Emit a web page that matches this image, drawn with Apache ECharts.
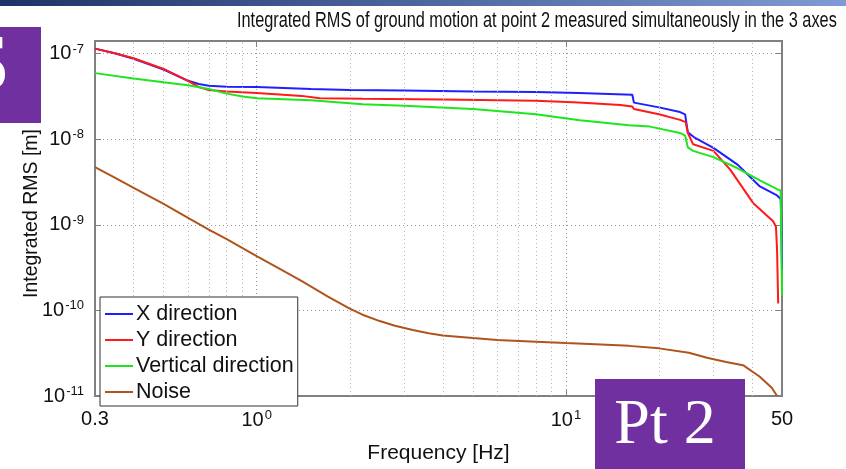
<!DOCTYPE html>
<html><head><meta charset="utf-8">
<script src="https://cdn.jsdelivr.net/npm/echarts@6/dist/echarts.min.js"></script>
<style>html,body{margin:0;padding:0;background:#fff}#c{width:846px;height:469px}</style>
</head><body><div id="c"></div>
<script>
// ---- data ----
const titleText = 'Integrated RMS of ground motion at point 2 measured simultaneously in the 3 axes';
const seriesNames = ['X direction', 'Y direction', 'Vertical direction', 'Noise'];

const xDirFreq = [0.3,0.35,0.4,0.5,0.6,0.65,0.7,0.8,1.0,1.5,2.0,3.0,5.0,8.0,11,16.4,16.6,20,23.4,24.3,24.8,26,30,36,42.4,48.2,49.5,49.7,50];
const xDirVal  = [1.14e-7,1.0e-7,8.7e-8,6.5e-8,4.8e-8,4.4e-8,4.2e-8,4.1e-8,4.05e-8,3.85e-8,3.75e-8,3.7e-8,3.6e-8,3.55e-8,3.46e-8,3.3e-8,2.67e-8,2.35e-8,2.07e-8,1.95e-8,1.2e-8,1.05e-8,7.9e-9,5e-9,2.8e-9,2.2e-9,2.0e-9,1.3e-9,3e-10];

const yDirFreq = [0.3,0.35,0.4,0.5,0.6,0.65,0.7,0.8,1.0,1.4,1.6,2.2,4,8,11,15,16.4,16.6,20,23.4,24.4,24.8,25.8,30,34,40.3,46.8,47.8,48.2,48.6];
const yDirVal  = [1.14e-7,1.0e-7,8.8e-8,6.6e-8,4.8e-8,4.05e-8,3.75e-8,3.6e-8,3.45e-8,3.2e-8,3.0e-8,2.96e-8,2.9e-8,2.8e-8,2.67e-8,2.5e-8,2.4e-8,2.25e-8,1.95e-8,1.68e-8,1.58e-8,1.18e-8,8.7e-9,7.3e-9,4.4e-9,1.8e-9,1.1e-9,9.5e-10,5e-10,1.2e-10];

const zDirFreq = [0.3,0.4,0.53,0.6,0.7,0.8,0.9,1.0,1.5,2.2,3,5,8,11.1,16,18.7,23.4,24.3,24.8,25.8,30,35.8,42.4,48.2,49.5,49.8,50];
const zDirVal  = [5.9e-8,5.1e-8,4.5e-8,4.25e-8,3.85e-8,3.4e-8,3.15e-8,3.0e-8,2.84e-8,2.56e-8,2.45e-8,2.25e-8,1.95e-8,1.66e-8,1.45e-8,1.4e-8,1.18e-8,1.1e-8,8.0e-9,7.3e-9,6.17e-9,4.6e-9,3.3e-9,2.6e-9,2.5e-9,5e-10,1.5e-10];

const noiseFreq = [0.3,0.35,0.4,0.5,0.6,0.7,0.8,1.0,1.2,1.4,1.7,2.0,2.2,2.5,2.8,3.2,3.6,4.0,5.0,6.0,8.0,10,13,16,20,25,28.6,33,37.4,42.4,46.4,48.2];
const noiseVal  = [4.7e-9,3.5e-9,2.7e-9,1.75e-9,1.2e-9,8.8e-10,6.8e-10,4.3e-10,3.0e-10,2.2e-10,1.45e-10,1.05e-10,8.9e-11,7.5e-11,6.6e-11,5.9e-11,5.4e-11,5.1e-11,4.75e-11,4.5e-11,4.3e-11,4.15e-11,4.0e-11,3.85e-11,3.6e-11,3.2e-11,2.8e-11,2.5e-11,2.29e-11,1.68e-11,1.24e-11,1.0e-11];

const xMin = 0.3, xMax = 50, yMin = 1e-11, yMax = 1.4e-7;
const xMinorGrid = [0.4,0.5,0.6,0.7,0.8,0.9,2,3,4,5,6,7,8,9,20,30,40];
const yMinorGrid = [];
[1e-11,1e-10,1e-9,1e-8].forEach(d => { for (let k = 2; k <= 9; k++) yMinorGrid.push(+(k*d).toPrecision(3)); });

const colors = ['#1f1fff', '#ff1a1a', '#1ee61e', '#b0541e'];

function pairs(f, v) { return f.map((x, i) => [x, v[i]]); }

const chart = echarts.init(document.getElementById('c'), null, {renderer: 'canvas'});
const FONT = "'Liberation Sans', Arial, sans-serif";
const gridLine = {type: [1, 3], color: '#9a9a9a', width: 1};
const minorLine = {type: [1, 3], color: '#b4b4b4', width: 1};

function supLabel(v, isX) {
  if (isX) {
    if (Math.abs(v - xMin) < 1e-9) return '0.3';
    if (Math.abs(v - xMax) < 1e-6) return '50';
  }
  const e = Math.log10(v);
  if (Math.abs(e - Math.round(e)) > 1e-6) return '';
  return '{b|10}{s|' + Math.round(e) + '}';
}
const richLab = {
  b: {fontSize: 20, fontFamily: FONT, color: '#111', lineHeight: 22},
  s: {fontSize: 13, fontFamily: FONT, color: '#111', verticalAlign: 'top', lineHeight: 12, padding: [0, 0, 0, 1]}
};

const option = {
  animation: false,
  backgroundColor: '#fff',
  color: colors,
  grid: {left: 95, right: 64, top: 41, bottom: 59, show: true, borderColor: '#808080', borderWidth: 2, backgroundColor: 'transparent'},
  legend: {
    data: seriesNames,
    orient: 'vertical', left: 100, top: 297,
    padding: [6, 4, 3, 5], itemGap: 4,
    itemWidth: 28, itemHeight: 2, icon: 'rect',
    backgroundColor: '#fff', borderColor: '#333', borderWidth: 1, borderRadius: 0,
    textStyle: {fontSize: 21.5, fontFamily: FONT, color: '#111', padding: [0, 0, 0, -2]},
    z: 20
  },
  xAxis: [{
    type: 'log', logBase: 10, min: xMin, max: xMax,
    name: 'Frequency [Hz]', nameLocation: 'middle', nameGap: 47, nameMoveOverlap: false,
    nameTextStyle: {fontSize: 21, fontFamily: FONT, color: '#111'},
    axisLine: {lineStyle: {color: '#808080', width: 2}},
    axisTick: {inside: true, length: 6, lineStyle: {color: '#808080'}},
    axisLabel: {showMinLabel: true, showMaxLabel: true, margin: 13, color: '#111', fontSize: 20, fontFamily: FONT,
      formatter: v => supLabel(v, true), rich: richLab},
    splitLine: {show: true, lineStyle: gridLine}
  }, {
    type: 'log', logBase: 10, min: xMin, max: xMax, position: 'top',
    axisLine: {lineStyle: {color: '#808080', width: 2}},
    axisTick: {inside: true, length: 6, lineStyle: {color: '#808080'}},
    axisLabel: {show: false}, splitLine: {show: false}
  }],
  yAxis: [{
    type: 'log', logBase: 10, min: yMin, max: yMax,
    name: 'Integrated RMS [m]', nameLocation: 'middle', nameGap: 53, nameMoveOverlap: false,
    nameTextStyle: {fontSize: 19.5, fontFamily: FONT, color: '#111', padding: [0, 0, 0, 10]},
    axisLine: {lineStyle: {color: '#808080', width: 2}},
    axisTick: {inside: true, length: 6, lineStyle: {color: '#808080'}},
    axisLabel: {showMinLabel: true, showMaxLabel: false, margin: 11, color: '#111',
      formatter: v => supLabel(v, false), rich: richLab},
    splitLine: {show: true, lineStyle: gridLine}
  }, {
    type: 'log', logBase: 10, min: yMin, max: yMax, position: 'right',
    axisLine: {lineStyle: {color: '#808080', width: 2}},
    axisTick: {inside: true, length: 6, lineStyle: {color: '#808080'}},
    axisLabel: {show: false}, splitLine: {show: false}
  }],
  series: [
    {
      name: 'minor-grid', type: 'line', data: [], silent: true, z: 1,
      markLine: {
        silent: true, symbol: ['none', 'none'], label: {show: false}, animation: false,
        lineStyle: minorLine,
        emphasis: {disabled: true},
        data: xMinorGrid.map(v => ({xAxis: v})).concat(yMinorGrid.map(v => ({yAxis: v})))
      }
    },
    {name: seriesNames[0], type: 'line', data: pairs(xDirFreq, xDirVal), showSymbol: false, symbol: 'none', lineStyle: {width: 2, color: colors[0]}, itemStyle: {color: colors[0]}, z: 3},
    {name: seriesNames[1], type: 'line', data: pairs(yDirFreq, yDirVal), showSymbol: false, symbol: 'none', lineStyle: {width: 2, color: colors[1]}, itemStyle: {color: colors[1]}, z: 4},
    {name: seriesNames[2], type: 'line', data: pairs(zDirFreq, zDirVal), showSymbol: false, symbol: 'none', lineStyle: {width: 2, color: colors[2]}, itemStyle: {color: colors[2]}, z: 5},
    {name: seriesNames[3], type: 'line', data: pairs(noiseFreq, noiseVal), showSymbol: false, symbol: 'none', lineStyle: {width: 2, color: colors[3]}, itemStyle: {color: colors[3]}, z: 6}
  ],
  graphic: [
    {type: 'rect', left: 0, top: 0, z: 50, shape: {width: 846, height: 6},
     style: {fill: new echarts.graphic.LinearGradient(0, 0, 1, 0, [{offset: 0, color: '#1d3268'}, {offset: 1, color: '#7f9ad6'}])}},
    {type: 'text', x: 237, y: 21, z: 50, scaleX: 0.742,
     style: {text: titleText, fontSize: 22, fontFamily: FONT, fill: '#111', verticalAlign: 'middle', align: 'left'}},
    {type: 'rect', left: 0, top: 27, z: 50, shape: {width: 41, height: 96}, style: {fill: '#7030a0'}},
    {type: 'text', x: 10, y: 68, z: 51,
     style: {text: 'S', fontSize: 80, fontFamily: "'Liberation Serif', 'Times New Roman', serif", fill: '#fff', align: 'right', verticalAlign: 'middle'}},
    {type: 'rect', left: 595, top: 379, z: 50, shape: {width: 150, height: 90}, style: {fill: '#7030a0'}},
    {type: 'text', x: 665, y: 426, z: 51,
     style: {text: 'Pt 2', fontSize: 64, fontFamily: "'Liberation Serif', 'Times New Roman', serif", fill: '#fff', align: 'center', verticalAlign: 'middle'}}
  ]
};
chart.setOption(option);
</script>
</body></html>
